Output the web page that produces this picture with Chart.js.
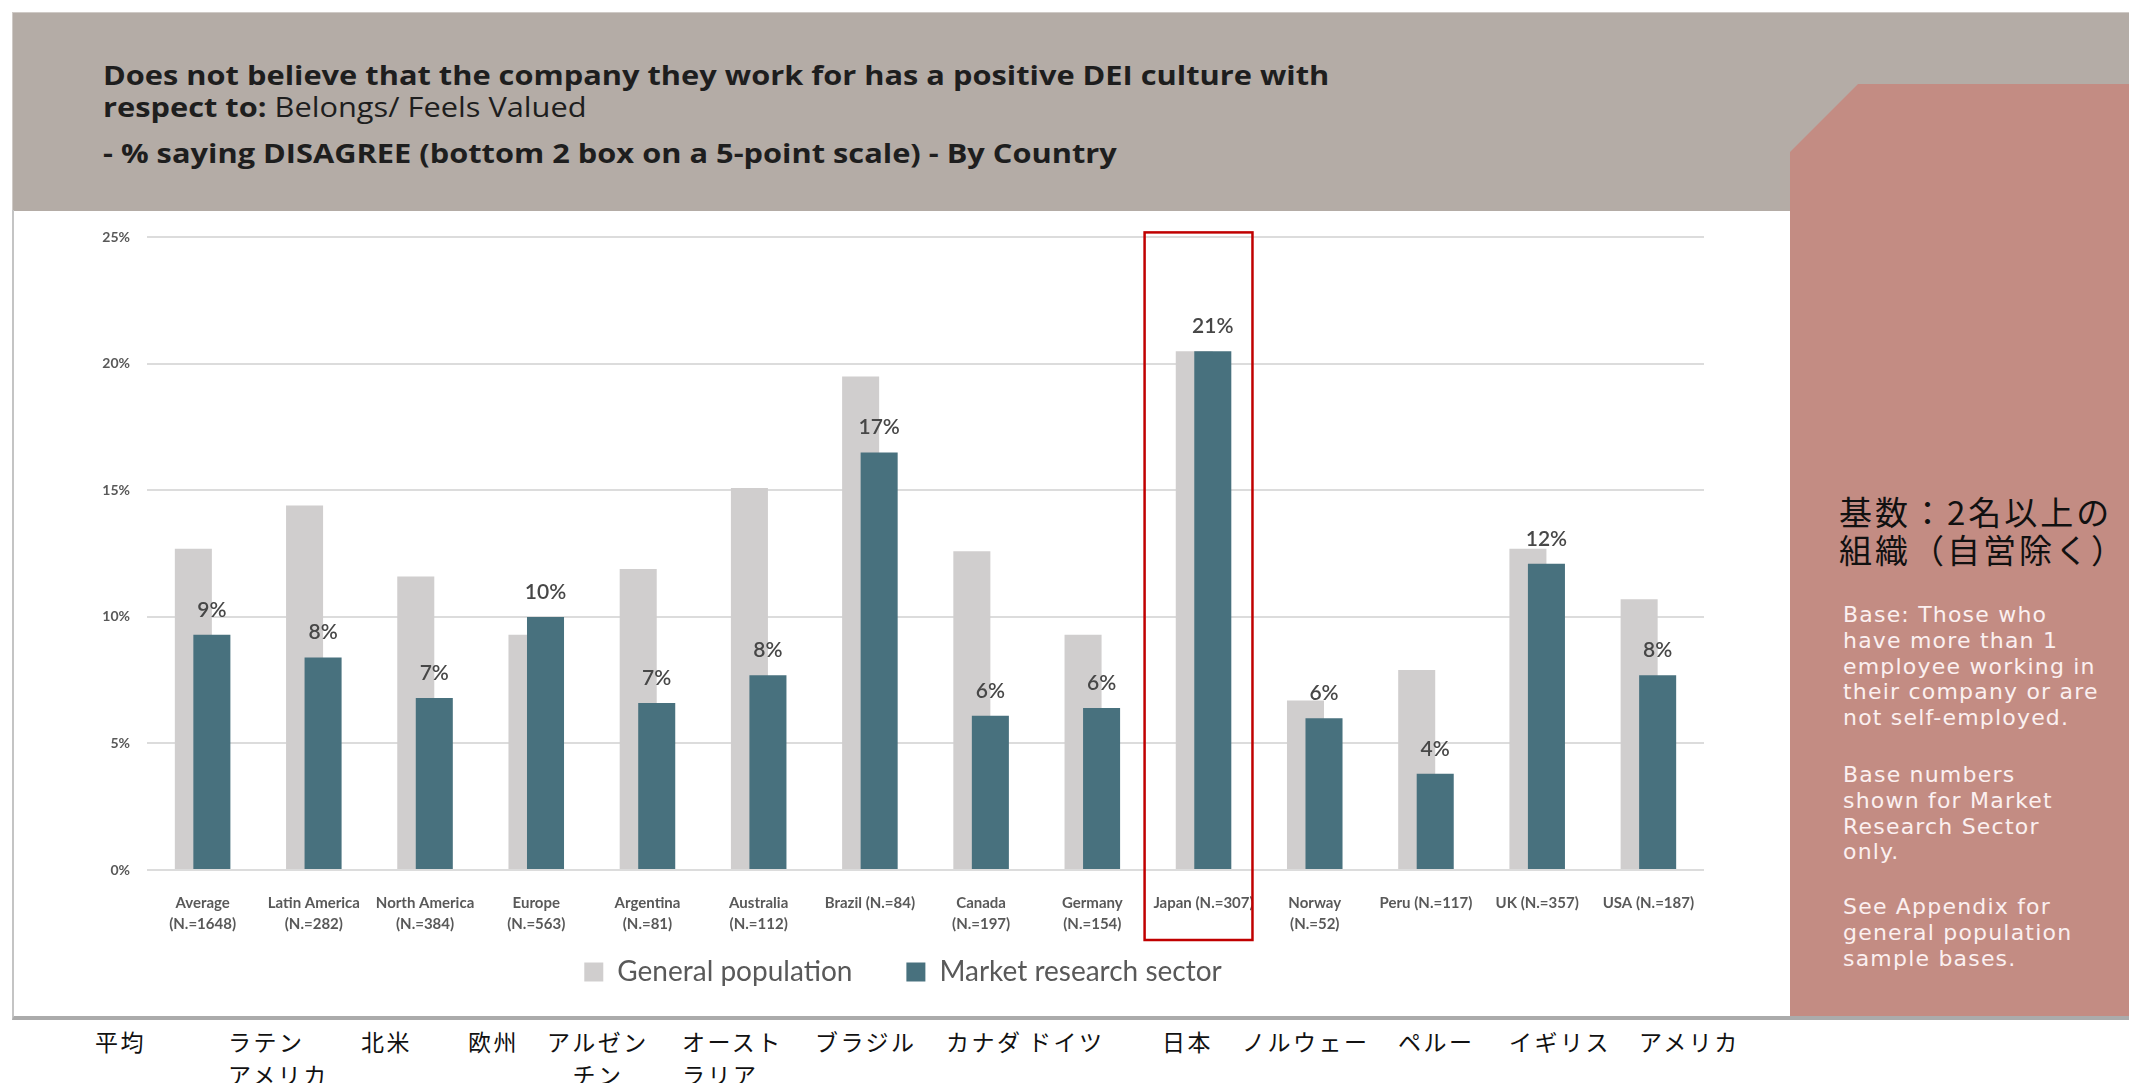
<!DOCTYPE html>
<html lang="ja">
<head>
<meta charset="utf-8">
<title>DEI culture - Belongs / Feels Valued</title>
<script src="https://cdn.jsdelivr.net/npm/chart.js@4.4.1/dist/chart.umd.min.js"></script>
<style>
    html, body { margin: 0; padding: 0; background: #ffffff; }
    body { position: relative; width: 2129px; height: 1083px; overflow: hidden; }
    .header { position: absolute; left: 12px; top: 12px; right: 0; height: 198px; background: #b4aca6; border-top: 1px solid #cfcac6; border-left: 1px solid #cfcac6; }
    .title { position: absolute; left: 103px; font-family: 'Open Sans', sans-serif; font-size: 27px; line-height: 30px; color: #1e1e1e; white-space: nowrap; transform: scaleX(1.14); transform-origin: 0 50%; }
    .title b { font-weight: 700; }
    .frame { position: absolute; left: 12px; top: 210px; right: 0; height: 806px; border-left: 2px solid #c4c4c4; border-bottom: 4px solid #ababab; }
    .side { position: absolute; left: 1790px; top: 84px; width: 339px; height: 932px; background: #c38c83; clip-path: polygon(0 68px, 68px 0, 100% 0, 100% 100%, 0 100%); }
    .side-ja { position: absolute; left: 1839px; top: 492px; font-family: 'Noto Sans CJK JP', sans-serif; font-size: 33px; line-height: 38px; letter-spacing: 3px; color: #111111; white-space: nowrap; }
    .side-note { position: absolute; left: 1843px; font-family: 'DejaVu Sans', sans-serif; font-size: 22px; line-height: 25.8px; letter-spacing: 1.2px; color: #fbf0f0; white-space: nowrap; }
    .ja-label { position: absolute; top: 1025px; font-family: 'Noto Sans CJK JP', sans-serif; font-size: 23px; line-height: 33px; letter-spacing: 2.5px; color: #111111; white-space: pre; }
    #chartWrap { position: absolute; left: 14px; top: 212px; width: 1776px; height: 800px; }
</style>
</head>
<body>
<div class="header"></div>
<div class="title" style="top: 60px;"><b>Does not believe that the company they work for has a positive DEI culture with</b></div>
<div class="title" style="top: 92px;"><b>respect to:</b> Belongs/ Feels Valued</div>
<div class="title" style="top: 138px;"><b>- % saying DISAGREE (bottom 2 box on a 5-point scale) - By Country</b></div>

<div class="frame"></div>
<div class="side"></div>
<div class="side-ja">基数：2名以上の<br>組織（自営除く）</div>
<div class="side-note" style="top: 602px;">Base: Those who<br>have more than 1<br>employee working in<br>their company or are<br>not self-employed.</div>
<div class="side-note" style="top: 762px;">Base numbers<br>shown for Market<br>Research Sector<br>only.</div>
<div class="side-note" style="top: 894px;">See Appendix for<br>general population<br>sample bases.</div>

<div id="chartWrap"><canvas id="deiChart" width="1776" height="800"></canvas></div>
<div id="jaLabels"></div>

<script>
// Country / region labels with the market research base size
const categories = [
    ['Average', '(N.=1648)'],
    ['Latin America', '(N.=282)'],
    ['North America', '(N.=384)'],
    ['Europe', '(N.=563)'],
    ['Argentina', '(N.=81)'],
    ['Australia', '(N.=112)'],
    'Brazil (N.=84)',
    ['Canada', '(N.=197)'],
    ['Germany', '(N.=154)'],
    'Japan (N.=307)',
    ['Norway', '(N.=52)'],
    'Peru (N.=117)',
    'UK (N.=357)',
    'USA (N.=187)',
];

// % saying DISAGREE
const generalPopulation = [12.7, 14.4, 11.6, 9.3, 11.9, 15.1, 19.5, 12.6, 9.3, 20.5, 6.7, 7.9, 12.7, 10.7];
const marketResearch = [9.3, 8.4, 6.8, 10.0, 6.6, 7.7, 16.5, 6.1, 6.4, 20.5, 6.0, 3.8, 12.1, 7.7];

const yTicks = [0, 5, 10, 15, 20, 25];

const seriesNames = ['General population', 'Market research sector'];

// Japanese names written under the slide
const jaLabels = ['平均', 'ラテン\nアメリカ', '北米', '欧州', 'アルゼン\n　チン', 'オースト\nラリア', 'ブラジル', 'カナダ', 'ドイツ', '日本', 'ノルウェー', 'ペルー', 'イギリス', 'アメリカ'];
const jaLabelLeft = [95, 228, 361, 468, 547, 682, 815, 946, 1028, 1162, 1242, 1398, 1509, 1639];

const highlightName = 'Japan (N.=307)';

const COLORS = {
    general: '#d0cece',
    market: '#48717e',
    grid: '#dcdcdc',
    tick: '#595959',
    label: '#474747',
    highlight: '#c00000',
};

// each bar is pushed this fraction of its width away from the category centre
const BAR_SHIFT = 0.25;

function renderJaLabels() {
    const holder = document.getElementById('jaLabels');
    jaLabels.forEach((text, i) => {
        const span = document.createElement('div');
        span.className = 'ja-label';
        span.style.left = `${jaLabelLeft[i]}px`;
        span.textContent = text;
        holder.appendChild(span);
    });
}

const overlapBars = {
    id: 'overlapBars',
    afterDatasetsUpdate(chart) {
        chart.data.datasets.forEach((ds, i) => {
            const dir = i === 0 ? -1 : 1;
            chart.getDatasetMeta(i).data.forEach((bar) => {
                bar.x += dir * bar.width * BAR_SHIFT;
            });
        });
    },
};

const valueLabels = {
    id: 'valueLabels',
    afterDatasetsDraw(chart) {
        const { ctx } = chart;
        const meta = chart.getDatasetMeta(1);
        ctx.save();
        ctx.font = '600 21px Lato';
        ctx.fillStyle = COLORS.label;
        ctx.textAlign = 'center';
        ctx.textBaseline = 'alphabetic';
        meta.data.forEach((bar, i) => {
            ctx.fillText(`${Math.round(marketResearch[i])}%`, bar.x, bar.y - 18);
        });
        ctx.restore();
    },
};

const highlightBox = {
    id: 'highlightBox',
    afterDraw(chart) {
        const idx = categories.indexOf(highlightName);
        if (idx < 0) {
            return;
        }
        const { ctx, chartArea } = chart;
        const x = chart.scales.x;
        const y = chart.scales.y;
        const step = x.getPixelForValue(1) - x.getPixelForValue(0);
        const cx = x.getPixelForValue(idx);
        const left = cx - step * 0.53;
        const right = cx + step * 0.44;
        const top = y.getPixelForValue(yTicks[yTicks.length - 1]) - 5;
        const bottom = chartArea.bottom + 70;
        ctx.save();
        ctx.strokeStyle = COLORS.highlight;
        ctx.lineWidth = 2.5;
        ctx.strokeRect(left, top, right - left, bottom - top);
        ctx.restore();
    },
};

function buildChart() {
    Chart.defaults.font.family = 'Lato, sans-serif';
    Chart.defaults.color = COLORS.tick;

    const defaultLegendLabels = Chart.defaults.plugins.legend.labels.generateLabels;

    const ctx = document.getElementById('deiChart').getContext('2d');
    return new Chart(ctx, {
        type: 'bar',
        data: {
            labels: categories,
            datasets: [
                {
                    label: seriesNames[0],
                    data: generalPopulation,
                    backgroundColor: COLORS.general,
                    order: 1,
                },
                {
                    label: seriesNames[1],
                    data: marketResearch,
                    backgroundColor: COLORS.market,
                    order: 0,
                },
            ],
        },
        options: {
            responsive: false,
            animation: false,
            events: [],
            grouped: false,
            categoryPercentage: 1,
            barPercentage: 0.333,
            layout: {
                padding: { left: 88, right: 86, top: 24, bottom: 16 },
            },
            scales: {
                x: {
                    grid: { display: false },
                    border: { display: false },
                    ticks: {
                        autoSkip: false,
                        maxRotation: 0,
                        padding: 14,
                        color: COLORS.tick,
                        font: { size: 15, weight: 'bold', lineHeight: 1.45 },
                    },
                    afterFit(scale) {
                        scale.height = 62;
                    },
                },
                y: {
                    min: yTicks[0],
                    max: yTicks[yTicks.length - 1],
                    afterBuildTicks(scale) {
                        scale.ticks = yTicks.map((v) => ({ value: v }));
                    },
                    grid: { color: COLORS.grid, lineWidth: 2, drawTicks: false },
                    border: { display: false },
                    ticks: {
                        padding: 17,
                        color: COLORS.tick,
                        font: { size: 14, weight: 'bold' },
                        callback: (v) => `${v}%`,
                    },
                    afterFit(scale) {
                        scale.width = 45;
                    },
                },
            },
            plugins: {
                legend: {
                    position: 'bottom',
                    reverse: true,
                    labels: {
                        boxWidth: 19,
                        boxHeight: 19,
                        padding: 26,
                        color: COLORS.tick,
                        font: { size: 28 },
                        // wider gap after the first entry
                        generateLabels(chart) {
                            const items = defaultLegendLabels(chart);
                            items.forEach((item) => {
                                if (item.datasetIndex === 0) {
                                    item.text += '\u2002\u2002';
                                }
                            });
                            return items;
                        },
                    },
                },
                tooltip: { enabled: false },
            },
        },
        plugins: [overlapBars, valueLabels, highlightBox],
    });
}

renderJaLabels();
buildChart();
</script>
</body>
</html>
